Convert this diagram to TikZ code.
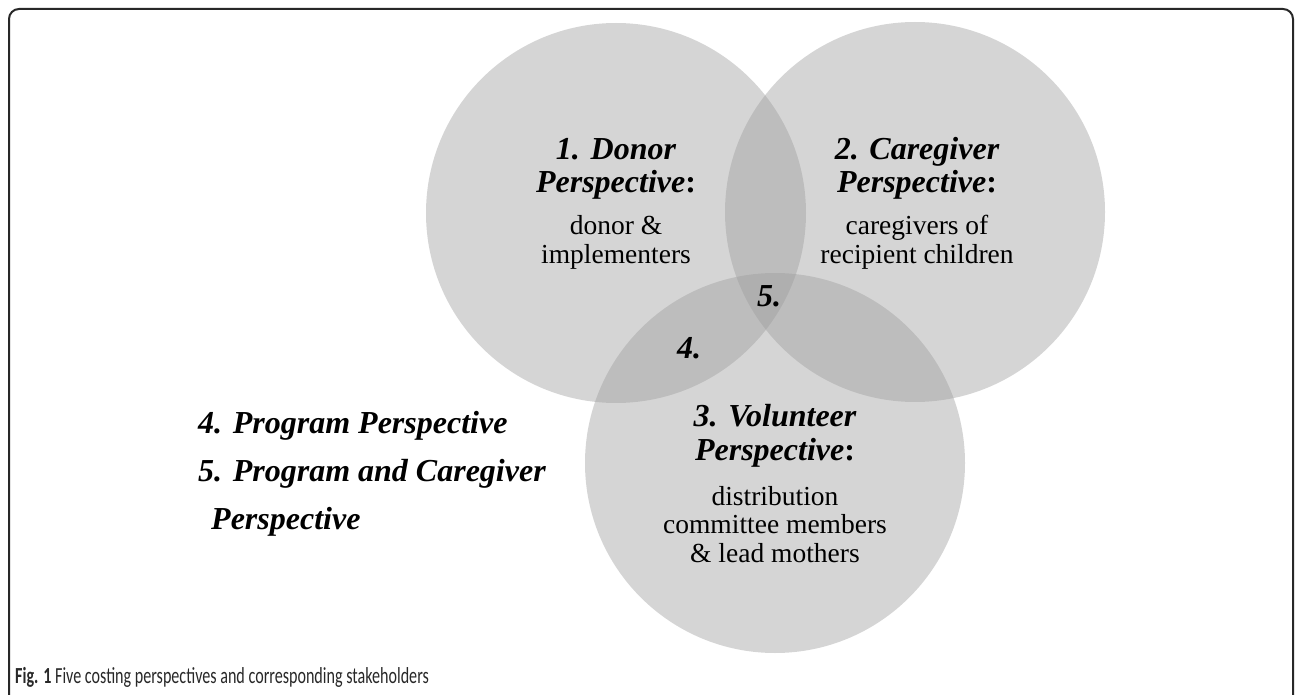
\documentclass[tikz,border=0pt]{standalone}
\usepackage{fontspec}
\setmainfont{Liberation Serif}
\newfontfamily\capfont[FakeStretch=0.7]{Carlito}
\usetikzlibrary{positioning}
\definecolor{venngray}{RGB}{156,156,156}
\definecolor{framegray}{RGB}{40,40,40}
\tikzstyle{persp}   = [circle, minimum size=380pt, inner sep=0pt, fill=venngray, fill opacity=0.42]
\tikzstyle{title}   = [align=center, inner sep=0pt, anchor=base, font=\fontsize{32}{33.5}\selectfont\bfseries\itshape]
\tikzstyle{members} = [align=center, inner sep=0pt, anchor=base, font=\fontsize{27.5}{28.5}\selectfont]
\tikzstyle{legend}  = [align=left, inner sep=0pt, anchor=base west, font=\fontsize{32}{48}\selectfont\bfseries\itshape]
\tikzstyle{frame}   = [line width=2pt, draw=framegray, rounded corners=10pt]

\begin{document}
\begin{tikzpicture}[x=1pt, y=-1pt]
    \useasboundingbox (0,0) rectangle (1296,695);
    \draw[frame] (9,695) -- (9,9) -- (1293,9) -- (1293,695);

    % the three circles
    \node[persp] (donor) at (616,213) {};
    \node[persp] (caregiver) at (915,212) {};
    \node[persp] (volunteer) at (775,463) {};

    % texts inside the circles (base = last line)
    \node[title] (donortitle) at (616,193) {1. Donor\\Perspective\textup{:}};
    \node[members] (donortext) at (616,263) {donor \&\\implementers};
    \node[title] (caregivertitle) at (917,193) {2. Caregiver\\Perspective\textup{:}};
    \node[members] (caregivertext) at (917,263) {caregivers of\\recipient children};
    \node[title] (volunteertitle) at (775,460) {3. Volunteer\\Perspective\textup{:}};
    \node[members] (volunteertext) at (775,562) {distribution\\committee members\\\& lead mothers};

    % overlaps
    \node[title] (prog) at (689,358) {4.};
    \node[title] (progcare) at (769,306) {5.};

    % legend
    \node[legend] (legprog) at (198,433) {4. Program Perspective};
    \node[legend] (legprogcare) at (198,529) {5. Program and Caregiver\\\hspace{13pt}Perspective};

    \node[anchor=base west, inner sep=0pt, text=framegray] (caption) at (15,683)
        {\capfont\fontsize{23}{25}\selectfont\textbf{Fig. 1} Five costing perspectives and corresponding stakeholders};
\end{tikzpicture}
\end{document}
